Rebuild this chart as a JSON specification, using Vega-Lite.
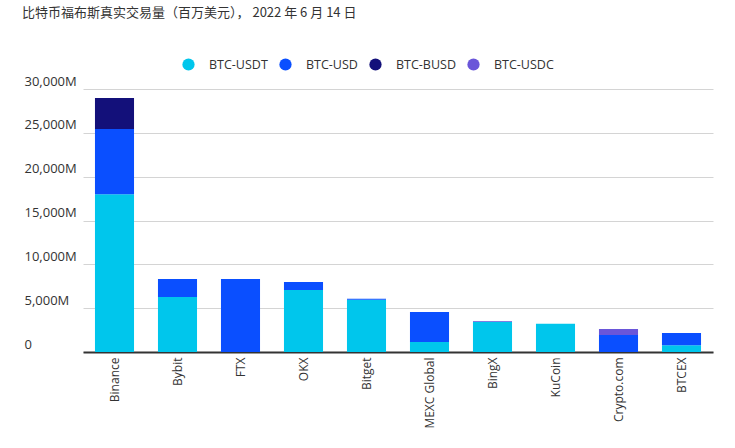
{
  "$schema": "https://vega.github.io/schema/vega-lite/v6.json",
  "width": 693,
  "height": 263,
  "autosize": {"type": "none"},
  "padding": {"left": 24, "top": 89, "right": 18, "bottom": 96},
  "background": "white",
  "title": {
    "text": "比特币福布斯真实交易量（百万美元）， 2022 年 6 月 14 日",
    "anchor": "start",
    "frame": "group",
    "font": "Noto Sans CJK SC",
    "fontSize": 13,
    "fontWeight": "normal",
    "color": "#333333",
    "orient": "top",
    "offset": 0,
    "dx": -2,
    "dy": -38
  },
  "datasets": {
    "pairs": [
      {"pair": "BTC-USDT", "rank": 0},
      {"pair": "BTC-USD", "rank": 1},
      {"pair": "BTC-BUSD", "rank": 2},
      {"pair": "BTC-USDC", "rank": 3}
    ]
  },
  "data": {
    "values": [
      {"exchange": "Binance", "pair": "BTC-USDT", "volume": 18000},
      {"exchange": "Binance", "pair": "BTC-USD", "volume": 7430},
      {"exchange": "Binance", "pair": "BTC-BUSD", "volume": 3540},
      {"exchange": "Bybit", "pair": "BTC-USDT", "volume": 6270},
      {"exchange": "Bybit", "pair": "BTC-USD", "volume": 2060},
      {"exchange": "FTX", "pair": "BTC-USD", "volume": 8330},
      {"exchange": "OKX", "pair": "BTC-USDT", "volume": 7070},
      {"exchange": "OKX", "pair": "BTC-USD", "volume": 910},
      {"exchange": "Bitget", "pair": "BTC-USDT", "volume": 5950},
      {"exchange": "Bitget", "pair": "BTC-USD", "volume": 110},
      {"exchange": "MEXC Global", "pair": "BTC-USDT", "volume": 1140},
      {"exchange": "MEXC Global", "pair": "BTC-USD", "volume": 3420},
      {"exchange": "BingX", "pair": "BTC-USDT", "volume": 3440},
      {"exchange": "BingX", "pair": "BTC-USDC", "volume": 100},
      {"exchange": "KuCoin", "pair": "BTC-USDT", "volume": 3230},
      {"exchange": "Crypto.com", "pair": "BTC-USD", "volume": 1940},
      {"exchange": "Crypto.com", "pair": "BTC-USDC", "volume": 680},
      {"exchange": "BTCEX", "pair": "BTC-USDT", "volume": 780},
      {"exchange": "BTCEX", "pair": "BTC-USD", "volume": 1380}
    ]
  },
  "transform": [
    {"lookup": "pair", "from": {"data": {"name": "pairs"}, "key": "pair", "fields": ["rank"]}}
  ],
  "mark": {"type": "bar"},
  "encoding": {
    "x": {
      "field": "exchange",
      "type": "nominal",
      "sort": ["Binance", "Bybit", "FTX", "OKX", "Bitget", "MEXC Global", "BingX", "KuCoin", "Crypto.com", "BTCEX"],
      "scale": {"range": [59, 689], "paddingInner": 0.38, "paddingOuter": 0.19},
      "axis": {
        "title": null,
        "labelAngle": -90,
        "labelAlign": "right",
        "labelBaseline": "middle",
        "labelFont": "Open Sans",
        "labelFontSize": 12,
        "labelColor": "#333333",
        "labelPadding": 5,
        "ticks": false,
        "domainColor": "#333333",
        "domainWidth": 2,
        "grid": false
      }
    },
    "y": {
      "field": "volume",
      "type": "quantitative",
      "stack": "zero",
      "scale": {"domain": [0, 30000], "nice": false},
      "axis": {
        "title": null,
        "values": [0, 5000, 10000, 15000, 20000, 25000, 30000],
        "labelExpr": "datum.value == 0 ? '0' : format(datum.value, ',') + 'M'",
        "labelAlign": "left",
        "labelBaseline": "alphabetic",
        "labelOffset": -4,
        "labelPadding": 0,
        "labelFont": "Open Sans",
        "labelFontSize": 13,
        "labelColor": "#333333",
        "ticks": false,
        "domain": false,
        "grid": true,
        "gridColor": "#d4d4d4",
        "gridWidth": 1
      }
    },
    "color": {
      "field": "pair",
      "type": "nominal",
      "sort": ["BTC-USDT", "BTC-USD", "BTC-BUSD", "BTC-USDC"],
      "scale": {
        "domain": ["BTC-USDT", "BTC-USD", "BTC-BUSD", "BTC-USDC"],
        "range": ["#00c6ec", "#0a4fff", "#13107a", "#6a56d9"]
      },
      "legend": {
        "title": null,
        "orient": "none",
        "direction": "horizontal",
        "legendX": 158,
        "legendY": -31,
        "symbolType": "circle",
        "symbolSize": 150,
        "symbolStrokeWidth": 0,
        "symbolOpacity": 1,
        "labelFont": "Open Sans",
        "labelFontSize": 12.5,
        "labelColor": "#333333",
        "labelOffset": 14,
        "columnPadding": 11
      }
    },
    "order": {"field": "rank", "type": "quantitative"}
  },
  "config": {"view": {"stroke": null}}
}
